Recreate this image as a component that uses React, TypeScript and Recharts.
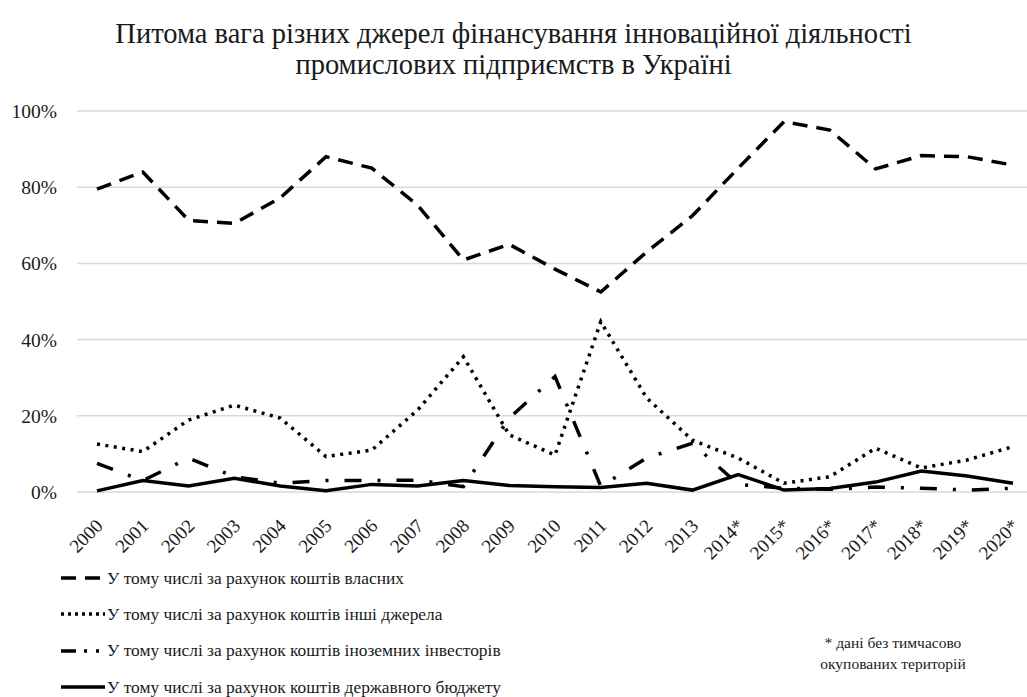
import { CartesianGrid, Line, LineChart, XAxis, YAxis } from 'recharts'

const years = [
  '2000', '2001', '2002', '2003', '2004', '2005', '2006', '2007', '2008', '2009', '2010',
  '2011', '2012', '2013', '2014*', '2015*', '2016*', '2017*', '2018*', '2019*', '2020*',
]

// shares, %
const ownFunds = [79.5, 84, 71.3, 70.5, 77.2, 88, 85, 75.3, 60.9, 65, 58.5, 52.5, 63, 72.5, 85, 97.2, 95, 84.8, 88.3, 88, 85.8]
const otherSources = [12.6, 10.6, 18.9, 22.8, 19.4, 9.3, 11, 21.5, 35.5, 15, 9.7, 44.7, 24.7, 13.6, 8.9, 2.3, 4, 11.5, 6.3, 8.4, 11.9]
const foreignInvestors = [7.5, 3, 8.9, 4, 2.3, 3, 3, 3.1, 1.4, 19.4, 30.3, 1.5, 8.9, 12.8, 2, 1, 0.7, 1.3, 1, 0.5, 1]
const stateBudget = [0.3, 3, 1.6, 3.6, 1.6, 0.3, 2, 1.6, 3, 1.7, 1.4, 1.2, 2.3, 0.5, 4.6, 0.5, 0.9, 2.6, 5.5, 4.2, 2.3]

const yTicks = [0, 20, 40, 60, 80, 100]

const seriesNames = {
  own: 'У тому числі за рахунок коштів власних',
  other: 'У тому числі за рахунок коштів інші джерела',
  foreign: 'У тому числі за рахунок коштів іноземних інвесторів',
  budget: 'У тому числі за рахунок коштів державного бюджету',
}

const data = years.map((year, i) => ({
  year,
  own: ownFunds[i],
  other: otherSources[i],
  foreign: foreignInvestors[i],
  budget: stateBudget[i],
}))

const FONT = "'Liberation Serif', 'DejaVu Serif', 'Times New Roman', Times, serif"
const INK = '#1a1a1a'

const DASH = '15 9'
const DOT = '3 5.5'
const DASH_DOT = '17 16 3 16'

function XTick({ x, y, payload }: { x?: number; y?: number; payload?: { value: string } }) {
  return (
    <g transform={`translate(${(x ?? 0) + 7},${(y ?? 0) + 35})`}>
      <text
        textAnchor="end"
        transform="rotate(-45)"
        fill={INK}
        fontSize={19}
        style={{ fontFamily: FONT }}
      >
        {payload?.value}
      </text>
    </g>
  )
}

function Swatch({ legendDash }: { legendDash?: string }) {
  return (
    <svg width={44} height={10} style={{ display: 'block', flex: 'none' }}>
      <line
        x1={0}
        y1={5}
        x2={44}
        y2={5}
        stroke="#000"
        strokeWidth={3.5}
        strokeDasharray={legendDash}
      />
    </svg>
  )
}

const legendRows = [
  { key: 'own', dash: '15 9' },
  { key: 'other', dash: '3 4' },
  { key: 'foreign', dash: '15 8 3 9 3 9' },
  { key: 'budget', dash: undefined },
] as const

export default function App() {
  return (
    <div
      style={{
        position: 'absolute',
        left: 0,
        top: 0,
        width: 1027,
        height: 697,
        background: '#fff',
        fontFamily: FONT,
        color: INK,
        overflow: 'hidden',
      }}
    >
      <div
        style={{
          position: 'absolute',
          left: 0,
          top: 18,
          width: 1027,
          textAlign: 'center',
          fontSize: 28.5,
          lineHeight: '31px',
        }}
      >
        Питома вага різних джерел фінансування інноваційної діяльності
        <br />
        промислових підприємств в Україні
      </div>

      <LineChart
        width={1027}
        height={697}
        data={data}
        margin={{ top: 111, right: 0, bottom: 145, left: 0 }}
        style={{ position: 'absolute', left: 0, top: 0, fontFamily: FONT }}
      >
        <CartesianGrid vertical={false} stroke="#d9d9d9" strokeWidth={1.5} />
        <XAxis
          dataKey="year"
          scale="point"
          padding={{ left: 20, right: 14 }}
          axisLine={false}
          tickLine={false}
          tickSize={0}
          tickMargin={0}
          height={60}
          interval={0}
          tick={<XTick />}
        />
        <YAxis
          width={77}
          domain={[0, 100]}
          ticks={yTicks}
          axisLine={false}
          tickLine={false}
          tickSize={0}
          tickMargin={20}
          tickFormatter={(v) => `${v}%`}
          tick={{ fill: INK, fontSize: 19.5, style: { fontFamily: FONT } }}
        />
        <Line
          dataKey="budget"
          name={seriesNames.budget}
          stroke="#000"
          strokeWidth={3.5}
          dot={false}
          isAnimationActive={false}
        />
        <Line
          dataKey="foreign"
          name={seriesNames.foreign}
          stroke="#000"
          strokeWidth={3.5}
          strokeDasharray={DASH_DOT}
          dot={false}
          isAnimationActive={false}
        />
        <Line
          dataKey="other"
          name={seriesNames.other}
          stroke="#000"
          strokeWidth={3.5}
          strokeDasharray={DOT}
          dot={false}
          isAnimationActive={false}
        />
        <Line
          dataKey="own"
          name={seriesNames.own}
          stroke="#000"
          strokeWidth={3.5}
          strokeDasharray={DASH}
          dot={false}
          isAnimationActive={false}
        />
      </LineChart>

      <div style={{ position: 'absolute', left: 61, top: 560, fontSize: 17.4 }}>
        {legendRows.map((r) => (
          <div
            key={r.key}
            style={{ display: 'flex', alignItems: 'center', gap: 2, height: 36.3 }}
          >
            <Swatch legendDash={r.dash} />
            <span>{seriesNames[r.key]}</span>
          </div>
        ))}
      </div>

      <div
        style={{
          position: 'absolute',
          left: 793,
          top: 632,
          width: 200,
          textAlign: 'center',
          fontSize: 15.5,
          lineHeight: '21px',
        }}
      >
        * дані без тимчасово
        <br />
        окупованих територій
      </div>
    </div>
  )
}
